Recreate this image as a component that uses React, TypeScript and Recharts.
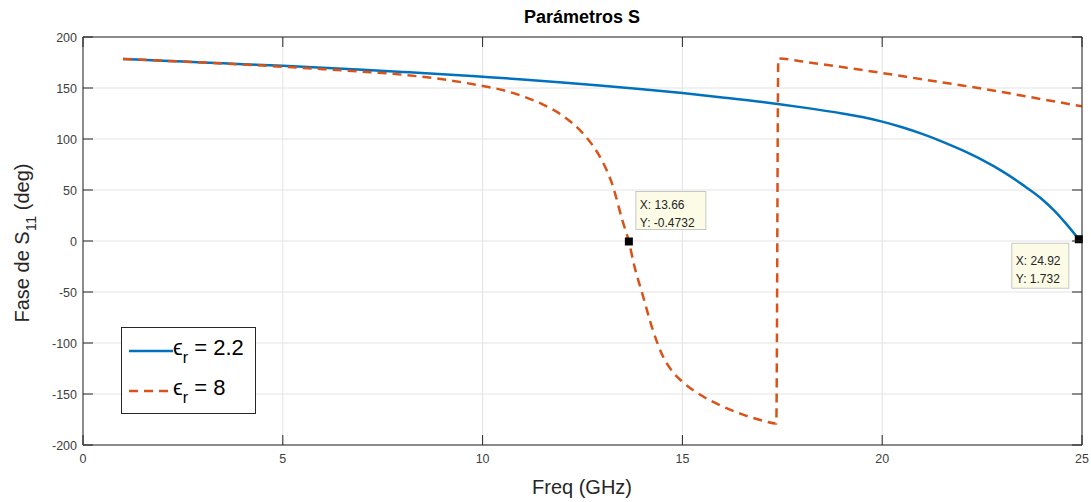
import React from 'react';
import {
  LineChart,
  Line,
  XAxis,
  YAxis,
  CartesianGrid,
  ReferenceDot,
  Legend,
} from 'recharts';

// frequency axis (GHz) and phase of S11 (deg)
const xTicks = [0, 5, 10, 15, 20, 25];
const yTicks = [-200, -150, -100, -50, 0, 50, 100, 150, 200];

const freqLow = [1, 2, 3, 4, 5, 6, 7, 8, 9, 10, 11, 12, 13, 14, 15, 16, 17, 18, 19, 19.5, 20, 20.5, 21, 21.5, 22, 22.5, 23, 23.5, 24, 24.3, 24.6, 24.92];
const phaseLow = [178.5, 176.8, 175.1, 173.4, 171.7, 169.8, 167.8, 165.7, 163.5, 161, 158.4, 155.5, 152.3, 148.8, 145, 140.8, 136.3, 131, 125, 121.5, 117, 111.5, 105, 97.5, 89, 79.5, 68.5, 55.5, 41, 30, 17, 1.73];

const freqHigh = [1, 2, 3, 4, 5, 6, 7, 8, 9, 10, 10.5, 11, 11.5, 12, 12.5, 12.75, 13, 13.25, 13.5, 13.66, 13.8, 14, 14.25, 14.5, 14.75, 15, 15.5, 16, 16.5, 17, 17.35, 17.4, 18, 19, 20, 21, 22, 23, 24, 25];
const phaseHigh = [178.5, 176.8, 175, 173, 170.8, 168.5, 166, 163, 158.5, 152, 148, 142, 134, 123, 106, 94, 78, 55, 20, -0.47, -25, -52, -86, -112, -128, -138, -152, -162, -170, -176, -179, 179, 176, 170.5, 164.7, 158.5, 152.5, 146, 139, 132];

const tipA = { x: 13.66, y: -0.4732 };
const tipB = { x: 24.92, y: 1.732 };

const lowData = freqLow.map((f, i) => ({ freq: f, fase: phaseLow[i] }));
const highData = freqHigh.map((f, i) => ({ freq: f, fase: phaseHigh[i] }));

const FONT = '"Liberation Sans", Arial, Helvetica, sans-serif';
const BLUE = '#0072BD';
const ORANGE = '#D95319';
const AXIS = '#262626';
const GAP = 8;
const LEN = 10;

const makeTick = (side: 'bottom' | 'left' | 'top' | 'right') => (props: any) => {
  const { x, y, payload } = props;
  if (side === 'bottom') {
    const ay = y - GAP;
    return (
      <g>
        <line x1={x} y1={ay} x2={x} y2={ay - LEN} stroke={AXIS} />
        <text x={x} y={y + 10} textAnchor="middle" fontSize={12.5} fill="#404040" fontFamily={FONT}>
          {payload.value}
        </text>
      </g>
    );
  }
  if (side === 'left') {
    const ax = x + GAP;
    return (
      <g>
        <line x1={ax} y1={y} x2={ax + LEN} y2={y} stroke={AXIS} />
        <text x={x + 2} y={y + 4.5} textAnchor="end" fontSize={12.5} fill="#404040" fontFamily={FONT}>
          {payload.value}
        </text>
      </g>
    );
  }
  if (side === 'top') {
    const ay = y + GAP;
    return <line x1={x} y1={ay} x2={x} y2={ay + LEN} stroke={AXIS} />;
  }
  const ax = x - GAP;
  return <line x1={ax} y1={y} x2={ax - LEN} y2={y} stroke={AXIS} />;
};

const DataTip = (props: any) => {
  const { cx, cy, label, dx, dy, w, h } = props;
  const left = cx + dx;
  const top = cy + dy;
  return (
    <g>
      <rect x={cx - 4} y={cy - 4} width={8} height={8} fill="#000" />
      <rect x={left} y={top} width={w} height={h} fill="#fbfbe6" stroke="#c8c8c8" />
      <text x={left + 4} y={top + h / 2 - 1} fontSize={12} fill={AXIS} fontFamily={FONT}>
        {label[0]}
      </text>
      <text x={left + 4} y={top + h / 2 + 17} fontSize={12} fill={AXIS} fontFamily={FONT}>
        {label[1]}
      </text>
    </g>
  );
};

const series = [
  { name: '2.2', color: BLUE, dash: undefined as string | undefined },
  { name: '8', color: ORANGE, dash: '9 6' },
];

const LegendBox = () => (
  <div
    style={{
      width: 133,
      height: 85,
      border: `1px solid ${AXIS}`,
      background: '#fff',
      fontFamily: FONT,
      color: '#000',
      boxSizing: 'content-box',
    }}
  >
    {series.map((s, i) => (
      <div key={s.name} style={{ display: 'flex', alignItems: 'center', height: 40, marginTop: i === 0 ? 3 : 0, paddingLeft: 7 }}>
        <svg width={44} height={10}>
          <line x1={0} y1={5} x2={44} y2={5} stroke={s.color} strokeWidth={2.5} strokeDasharray={s.dash} />
        </svg>
        <span style={{ fontSize: 22, whiteSpace: 'nowrap' }}>
          ϵ<sub style={{ fontSize: 16, verticalAlign: -8 }}>r</sub> = {s.name}
        </span>
      </div>
    ))}
  </div>
);

export default function App() {
  return (
    <div style={{ position: 'absolute', left: 0, top: 0, width: 1091, height: 502, background: '#fff', fontFamily: FONT }}>
      <LineChart width={1091} height={502} margin={{ top: 36, right: 8, bottom: 27, left: 33 }}>
        <CartesianGrid stroke="#e3e3e3" />
        <XAxis
          dataKey="freq"
          type="number"
          domain={[0, 25]}
          ticks={xTicks}
          height={30}
          tickSize={0}
          tickMargin={GAP}
          tick={makeTick('bottom')}
          axisLine={{ stroke: AXIS }}
          allowDataOverflow
        />
        <XAxis
          xAxisId="top"
          orientation="top"
          dataKey="freq"
          type="number"
          domain={[0, 25]}
          ticks={xTicks}
          height={1}
          tickSize={0}
          tickMargin={GAP}
          tick={makeTick('top')}
          axisLine={{ stroke: AXIS }}
          allowDataOverflow
        />
        <YAxis
          type="number"
          domain={[-200, 200]}
          ticks={yTicks}
          width={50}
          tickSize={0}
          tickMargin={GAP}
          tick={makeTick('left')}
          axisLine={{ stroke: AXIS }}
          allowDataOverflow
        />
        <YAxis
          yAxisId="right"
          orientation="right"
          type="number"
          domain={[-200, 200]}
          ticks={yTicks}
          width={1}
          tickSize={0}
          tickMargin={GAP}
          tick={makeTick('right')}
          axisLine={{ stroke: AXIS }}
          allowDataOverflow
        />
        <Line
          data={lowData}
          dataKey="fase"
          type="monotone"
          stroke={BLUE}
          strokeWidth={2.5}
          dot={false}
          isAnimationActive={false}
        />
        <Line
          data={highData}
          dataKey="fase"
          type="monotone"
          stroke={ORANGE}
          strokeWidth={2.5}
          strokeDasharray="9 6"
          dot={false}
          isAnimationActive={false}
        />
        <ReferenceDot
          x={tipA.x}
          y={tipA.y}
          r={4}
          shape={(p: any) => (
            <DataTip {...p} dx={7} dy={-50} w={70} h={38} label={[`X: ${tipA.x}`, `Y: ${tipA.y}`]} />
          )}
        />
        <ReferenceDot
          x={tipB.x}
          y={tipB.y}
          r={4}
          shape={(p: any) => (
            <DataTip {...p} dx={-67} dy={4} w={57} h={45} label={[`X: ${tipB.x}`, `Y: ${tipB.y}`]} />
          )}
        />
        <Legend
          layout="vertical"
          align="center"
          verticalAlign="middle"
          content={() => <LegendBox />}
          wrapperStyle={{ left: 121, top: 327, width: 135, height: 87 }}
        />
      </LineChart>
      <div
        style={{
          position: 'absolute',
          left: 432,
          top: 7,
          width: 300,
          textAlign: 'center',
          fontWeight: 'bold',
          fontSize: 18,
          color: '#000',
        }}
      >
        Parámetros S
      </div>
      <div
        style={{
          position: 'absolute',
          left: 432,
          top: 476,
          width: 300,
          textAlign: 'center',
          fontSize: 20,
          color: '#262626',
        }}
      >
        Freq (GHz)
      </div>
      <div
        style={{
          position: 'absolute',
          left: 25 - 150,
          top: 243 - 14,
          width: 300,
          textAlign: 'center',
          fontSize: 20,
          color: '#262626',
          transform: 'rotate(-90deg)',
          transformOrigin: 'center',
          whiteSpace: 'nowrap',
        }}
      >
        Fase de S<sub style={{ fontSize: 15, verticalAlign: -7 }}>11</sub> (deg)
      </div>
    </div>
  );
}
